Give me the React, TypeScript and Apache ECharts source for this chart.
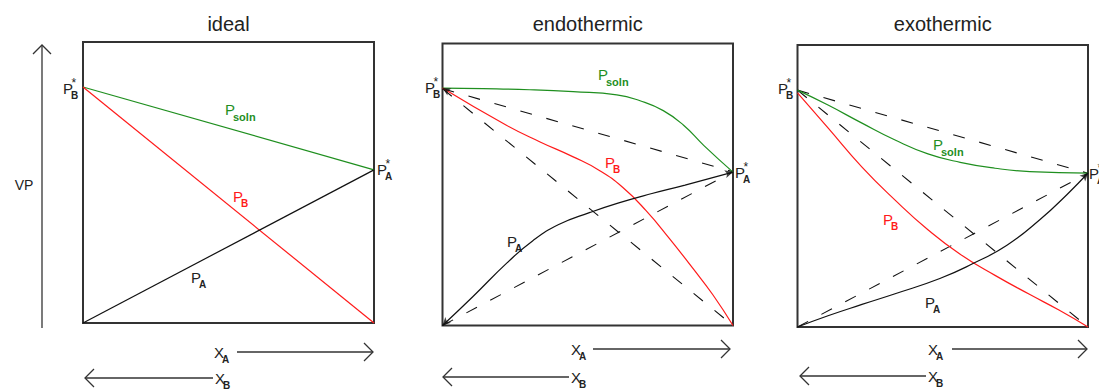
import React, { useEffect, useRef } from "react";
import * as echarts from "echarts";

// ---- data (x = mole fraction of A, y = vapour pressure, relative to box height) ----
const panelTitles = ["ideal", "endothermic", "exothermic"];

const idealPsoln = [[0, 0.84], [1, 0.545]];
const idealPB = [[0, 0.84], [1, 0]];
const idealPA = [[0, 0], [1, 0.545]];

const endoPsoln = [[0, 0.842], [0.14, 0.84], [0.3, 0.836], [0.45, 0.829], [0.6, 0.818], [0.68, 0.797], [0.76, 0.762], [0.83, 0.71], [0.9, 0.638], [1, 0.544]];
const endoPB = [[0, 0.842], [0.22, 0.71], [0.336, 0.651], [0.45, 0.598], [0.54, 0.55], [0.62, 0.49], [0.7, 0.408], [0.78, 0.31], [0.86, 0.205], [0.93, 0.11], [1, 0]];
const endoPA = [[0, 0], [0.105, 0.103], [0.222, 0.222], [0.31, 0.3], [0.4, 0.358], [0.508, 0.401], [0.604, 0.434], [0.721, 0.468], [0.835, 0.498], [1, 0.544]];

const exoPsoln = [[0, 0.84], [0.105, 0.787], [0.222, 0.723], [0.336, 0.663], [0.449, 0.614], [0.56, 0.584], [0.68, 0.563], [0.8, 0.551], [1, 0.546]];
const exoPB = [[0, 0.83], [0.105, 0.706], [0.222, 0.567], [0.336, 0.45], [0.449, 0.345], [0.56, 0.258], [0.68, 0.183], [0.8, 0.115], [0.9, 0.06], [1, 0]];
const exoPA = [[0, 0], [0.105, 0.04], [0.222, 0.08], [0.336, 0.118], [0.49, 0.172], [0.604, 0.225], [0.721, 0.29], [0.835, 0.381], [0.928, 0.47], [1, 0.546]];

const GREEN = "#1f8f1f";
const RED = "#ff1a1a";
const BLACK = "#111";
const FONT = '"Liberation Sans", Arial, sans-serif';

const grids = [
  { left: 83, top: 42, width: 291, height: 281 },
  { left: 442.5, top: 43.5, width: 290.5, height: 282 },
  { left: 797.5, top: 45, width: 290.5, height: 282 },
];

function lineSeries(data: number[][], color: string, gi: number, dashed = false) {
  return {
    type: "line",
    xAxisIndex: gi,
    yAxisIndex: gi,
    data,
    symbol: "none",
    smooth: data.length > 2 ? 0.5 : false,
    clip: false,
    silent: true,
    lineStyle: { color, width: dashed ? 1.1 : 1.2, type: dashed ? [12, 15] : "solid" },
    z: dashed ? 2 : 3,
  };
}

function arrowSeries(points: { value: number[]; rot: number }[], gi: number) {
  return {
    type: "scatter",
    xAxisIndex: gi,
    yAxisIndex: gi,
    symbol: "arrow",
    symbolSize: [6, 8],
    silent: true,
    itemStyle: { color: BLACK },
    data: points.map((p) => ({ value: p.value, symbolRotate: p.rot })),
    z: 4,
  };
}

function pLabel(main: string, x: number, y: number, sub: string, color: string, sup = false, subBig = false) {
  const els: any[] = [
    { type: "text", x, y, style: { text: main, fill: color, font: `15px ${FONT}`, textAlign: "left", textVerticalAlign: "middle" } },
    {
      type: "text",
      x: x + 8,
      y: y + 7.5,
      style: { text: sub, fill: color, font: `bold ${subBig ? 11 : 10}px ${FONT}`, textAlign: "left", textVerticalAlign: "middle" },
    },
  ];
  if (sup) {
    els.push({ type: "text", x: x + 8.5, y: y - 5.5, style: { text: "*", fill: color, font: `12px ${FONT}`, textAlign: "left", textVerticalAlign: "middle" } });
  }
  return els;
}

function arrowH(x1: number, x2: number, y: number, headAt: "left" | "right") {
  const hx = headAt === "right" ? x2 : x1;
  const d = headAt === "right" ? -9 : 9;
  return [
    { type: "line", shape: { x1, y1: y, x2, y2: y }, style: { stroke: "#333", lineWidth: 1.3 } },
    { type: "polyline", shape: { points: [[hx + d, y - 9], [hx, y], [hx + d, y + 9]] }, style: { stroke: "#333", lineWidth: 1.3, fill: null } },
  ];
}

export default function App() {
  const ref = useRef<HTMLDivElement>(null);

  useEffect(() => {
    if (!ref.current) return;
    const chart = echarts.init(ref.current, null, { renderer: "svg" });

    const xAxis = grids.map((_, i) => ({ type: "value", gridIndex: i, min: 0, max: 1, show: false }));
    const yAxis = grids.map((_, i) => ({ type: "value", gridIndex: i, min: 0, max: 1, show: false }));

    const series: any[] = [
      // ideal
      lineSeries(idealPsoln, GREEN, 0),
      lineSeries(idealPB, RED, 0),
      lineSeries(idealPA, BLACK, 0),
      // endothermic
      lineSeries(idealPsoln, BLACK, 1, true),
      lineSeries(idealPB, BLACK, 1, true),
      lineSeries(idealPA, BLACK, 1, true),
      lineSeries(endoPsoln, GREEN, 1),
      lineSeries(endoPB, RED, 1),
      lineSeries(endoPA, BLACK, 1),
      arrowSeries(
        [
          { value: endoPA[endoPA.length - 1], rot: -75 },
          { value: endoPA[0], rot: 135 },
          { value: endoPB[0], rot: 60 },
        ],
        1
      ),
      // exothermic
      lineSeries(idealPsoln, BLACK, 2, true),
      lineSeries(idealPB, BLACK, 2, true),
      lineSeries(idealPA, BLACK, 2, true),
      lineSeries(exoPsoln, GREEN, 2),
      lineSeries(exoPB, RED, 2),
      lineSeries(exoPA, BLACK, 2),
      arrowSeries([{ value: exoPA[exoPA.length - 1], rot: -45 }], 2),
    ];

    const titles = grids.map((g, i) => ({
      type: "text",
      x: g.left + g.width / 2,
      y: 24,
      style: { text: panelTitles[i], fill: "#222", font: `20px ${FONT}`, textAlign: "center", textVerticalAlign: "middle" },
    }));

    const graphic: any[] = [
      ...titles,
      // VP axis arrow
      { type: "line", shape: { x1: 42, y1: 328, x2: 42, y2: 45 }, style: { stroke: "#333", lineWidth: 1.3 } },
      { type: "polyline", shape: { points: [[33, 54], [42, 45], [51, 54]] }, style: { stroke: "#333", lineWidth: 1.3, fill: null } },
      { type: "text", x: 24, y: 185, style: { text: "VP", fill: "#222", font: `14px ${FONT}`, textAlign: "center", textVerticalAlign: "middle" } },
      // panel 1 labels
      ...pLabel("P", 63, 88, "B", "#222", true),
      ...pLabel("P", 377, 169, "A", "#222", true),
      ...pLabel("P", 225, 109, "soln", GREEN, false, true),
      ...pLabel("P", 233, 196, "B", RED),
      ...pLabel("P", 191, 277, "A", "#222"),
      // panel 2 labels
      ...pLabel("P", 425, 87, "B", "#222", true),
      ...pLabel("P", 735, 172, "A", "#222", true),
      ...pLabel("P", 598, 74, "soln", GREEN, false, true),
      ...pLabel("P", 605, 162, "B", RED),
      ...pLabel("P", 507, 241, "A", "#222"),
      // panel 3 labels
      ...pLabel("P", 778, 88, "B", "#222", true),
      ...pLabel("P", 1089, 173, "A", "#222", true),
      ...pLabel("P", 933, 144, "soln", GREEN, false, true),
      ...pLabel("P", 883, 219, "B", RED),
      ...pLabel("P", 925, 302, "A", "#222"),
      // composition arrows
      ...pLabel("X", 214, 352, "A", "#222"),
      ...arrowH(237, 373, 352, "right"),
      ...pLabel("X", 215, 378, "B", "#222"),
      ...arrowH(85, 213, 378, "left"),
      ...pLabel("X", 571, 349, "A", "#222"),
      ...arrowH(593, 730, 349, "right"),
      ...pLabel("X", 571, 377, "B", "#222"),
      ...arrowH(443, 569, 377, "left"),
      ...pLabel("X", 928, 349, "A", "#222"),
      ...arrowH(952, 1087, 349, "right"),
      ...pLabel("X", 928, 376, "B", "#222"),
      ...arrowH(800, 926, 376, "left"),
    ];

    chart.setOption({
      animation: false,
      backgroundColor: "#ffffff",
      grid: grids.map((g) => ({ ...g, show: true, borderColor: "#333", borderWidth: 2, backgroundColor: "transparent", containLabel: false })),
      xAxis,
      yAxis,
      series,
      graphic,
    });

    return () => chart.dispose();
  }, []);

  return <div ref={ref} style={{ position: "fixed", left: 0, top: 0, width: 1099, height: 391, background: "#fff" }} />;
}
